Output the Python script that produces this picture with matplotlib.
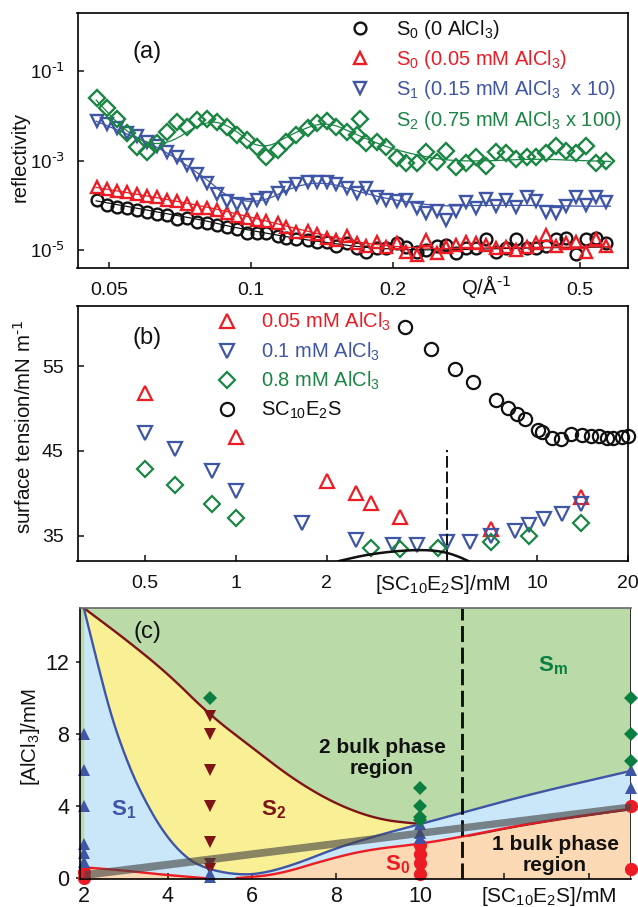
import numpy as np
import matplotlib
matplotlib.use("Agg")
import matplotlib.pyplot as plt

plt.rcParams['font.family'] = ['Liberation Sans', 'DejaVu Sans']
plt.rcParams['mathtext.default'] = 'regular'
plt.rcParams['axes.linewidth'] = 1.2

W, H = 638, 907
BLACK = '#111111'
RED = '#ED1C24'
BLUE = '#3F55A5'
GREEN = '#1B8544'
DKGREEN = '#0B7F41'
DKRED = '#7E1416'
FS = 14.5

# panel (a) reflectivity, values are log10(R)
q = [0.0472, 0.0496, 0.0521, 0.0547, 0.0574, 0.0603, 0.0633, 0.0665, 0.0698, 0.0733, 0.0770, 0.0808, 0.0849,
     0.0891, 0.0936, 0.0983, 0.103, 0.108, 0.114, 0.119, 0.125, 0.132, 0.138, 0.145, 0.152, 0.160, 0.168, 0.176,
     0.185, 0.194, 0.204, 0.214, 0.225, 0.236, 0.248, 0.260, 0.273, 0.287, 0.301, 0.316, 0.332, 0.349, 0.366,
     0.385, 0.404, 0.424, 0.445, 0.467, 0.491, 0.515, 0.541, 0.568]
log_s0_0 = [-3.88, -3.99, -4.03, -4.05, -4.11, -4.14, -4.20, -4.22, -4.31, -4.29, -4.37, -4.39, -4.44, -4.48, -4.52,
            -4.61, -4.61, -4.61, -4.69, -4.72, -4.75, -4.78, -4.81, -4.81, -4.91, -4.85, -4.96, -5.04, -4.96, -4.96,
            -4.84, -4.93, -5.04, -5.00, -4.91, -4.89, -5.06, -4.96, -4.96, -4.76, -5.04, -4.96, -4.76, -4.96, -4.96,
            -4.91, -4.76, -4.72, -5.09, -4.76, -4.72, -4.84]
log_s0_05 = [-3.58, -3.64, -3.67, -3.71, -3.75, -3.79, -3.82, -3.88, -3.91, -3.97, -4.05, -4.07, -4.11, -4.18, -4.23,
             -4.29, -4.33, -4.34, -4.40, -4.48, -4.59, -4.57, -4.63, -4.74, -4.78, -4.69, -4.84, -4.90, -4.81, -4.93,
             -4.85, -5.04, -5.11, -4.78, -5.07, -4.93, -4.89, -4.81, -4.85, -4.89, -4.96, -4.93, -5.00, -4.93, -4.85,
             -4.66, -4.91, -4.85, -4.81, -5.04, -4.76, -4.90]
log_s1 = [-2.11, -2.18, -2.28, -2.39, -2.45, -2.58, -2.67, -2.80, -2.93, -3.10, -3.29, -3.51, -3.75, -3.91, -3.98,
          -3.99, -3.88, -3.83, -3.72, -3.62, -3.53, -3.47, -3.49, -3.49, -3.53, -3.62, -3.72, -3.62, -3.81, -3.87,
          -3.91, -3.88, -4.05, -4.18, -4.12, -4.33, -4.12, -3.92, -4.05, -3.85, -4.02, -3.88, -4.03, -3.81, -3.91,
          -4.14, -4.18, -4.01, -3.82, -3.99, -3.81, -3.92]
log_s2 = [-1.61, -1.83, -2.07, -2.39, -2.69, -2.82, -2.60, -2.36, -2.13, -2.24, -2.10, -2.08, -2.13, -2.24, -2.43,
          -2.54, -2.69, -2.91, -2.77, -2.58, -2.43, -2.28, -2.15, -2.11, -2.24, -2.36, -2.43, -2.60, -2.58, -2.69,
          -2.95, -3.06, -3.05, -2.80, -3.04, -2.78, -3.14, -3.06, -2.91, -3.12, -2.80, -2.83, -2.96, -2.91, -2.91,
          -2.83, -2.68, -2.78, -2.84, -2.68, -3.06, -3.01]
# fitted curves
fit_q = [0.047, 0.055, 0.065, 0.08, 0.09, 0.105, 0.125, 0.145, 0.17, 0.2, 0.25, 0.3, 0.4, 0.5, 0.58]
fit_s0_0 = [-3.90, -4.03, -4.17, -4.34, -4.47, -4.60, -4.74, -4.83, -4.93, -4.98, -5.00, -4.98, -4.95, -4.94, -4.93]
fit_s0_05 = [-3.60, -3.72, -3.85, -4.03, -4.15, -4.32, -4.52, -4.68, -4.83, -4.92, -4.97, -4.95, -4.94, -4.93, -4.92]
fit_s1 = [-2.12, -2.42, -2.75, -3.38, -3.85, -3.95, -3.55, -3.48, -3.70, -3.88, -4.02, -4.00, -4.00, -4.02, -4.02]
fit_s2 = [-1.65, -2.42, -2.72, -2.10, -2.20, -2.80, -2.35, -2.12, -2.45, -2.75, -2.98, -3.02, -2.96, -3.00, -3.02]

# panel (b) surface tension
c_black = [3.63, 4.45, 5.33, 6.13, 7.28, 8.0, 8.55, 9.12, 10.05, 10.37, 11.17, 11.97, 12.97, 14.08, 15.1, 16.0, 17.1,
           17.9, 19.1, 20.0]
st_black = [59.6, 57.0, 54.7, 53.15, 50.95, 50.1, 49.4, 48.75, 47.45, 47.25, 46.5, 46.4, 46.95, 46.85, 46.75, 46.75,
            46.55, 46.55, 46.65, 46.75]
c_red = [0.5, 1, 2, 2.5, 2.8, 3.5, 7, 14]
st_red = [51.85, 46.6, 41.5, 40.05, 38.9, 37.25, 35.8, 39.5]
c_blue = [0.5, 0.63, 0.83, 1, 1.66, 2.5, 3.33, 4, 5, 6, 7, 8.43, 9.37, 10.5, 12.05, 14]
st_blue = [47.1, 45.2, 42.6, 40.3, 36.45, 34.5, 33.9, 33.9, 34.2, 34.3, 34.9, 35.6, 36.25, 36.95, 37.6, 38.7]
c_green = [0.5, 0.63, 0.83, 1, 2.8, 3.5, 4.69, 7, 9.37, 14]
st_green = [42.9, 40.95, 38.75, 37.1, 33.5, 33.4, 33.5, 34.3, 35.0, 36.5]
arc_c = [2.2, 2.6, 3, 3.5, 4, 4.5, 5, 5.5, 5.9]
arc_st = [32.0, 32.6, 32.95, 33.2, 33.3, 33.25, 33.0, 32.5, 32.0]
cmc_line_c = [5, 5]
cmc_line_st = [32.0, 45.1]

# panel (c) phase diagram boundaries
sm_x = [2, 3, 4, 5, 6, 7, 8, 9, 10]
sm_y = [15, 13.25, 11.35, 9.05, 7.25, 5.46, 4.1, 3.25, 3.0]
s1_x = [2, 2.34, 2.63, 2.92, 3.31, 3.89, 4.47, 5, 5.64, 6.22, 7, 8, 9.03, 10, 11, 12.6, 15]
s1_y = [15, 11.8, 9.2, 7.16, 4.93, 2.51, 1.02, 0.46, 0.19, 0.24, 0.74, 1.67, 2.4, 3.0, 3.63, 4.65, 5.95]
s0_left_x = [2, 2.92, 3.89, 4.86]
s0_left_y = [0.6, 0.43, 0.19, 0.0]
s0_right_x = [5.64, 6.6, 7.77, 8.74, 10, 11, 12.6, 15]
s0_right_y = [0.0, 0.19, 1.02, 1.57, 1.9, 2.3, 3.05, 3.85]
band_x = [2, 15]
band_lo = [-0.03, 3.78]
band_hi = [0.42, 4.18]
pts_s1_x = [2, 2, 2, 2, 2, 2, 5, 5, 10, 10, 10, 15, 15]
pts_s1_y = [8, 6, 4, 1.9, 1.4, 0.9, 0.2, 0.05, 3, 2.5, 2.2, 6, 5]
pts_s2_x = [5, 5, 5, 5, 5, 5, 5]
pts_s2_y = [9, 8, 6, 4, 2, 0.8, 0.5]
pts_sm_x = [5, 10, 10, 10, 10, 15, 15, 15]
pts_sm_y = [10, 5, 4, 3.4, 3.2, 10, 8, 6.5]
pts_s0_x = [2, 2, 10, 10, 10, 10, 15, 15]
pts_s0_y = [0.35, 0, 1.86, 1.36, 0.83, 0.24, 4, 0.5]


def px_axes(left, top, right, bottom):
    return fig.add_axes([left / W, 1 - bottom / H, (right - left) / W, (bottom - top) / H])


def ptext(x, y, s, **kw):
    kw.setdefault('fontsize', FS)
    kw.setdefault('ha', 'center')
    kw.setdefault('va', 'center')
    kw.setdefault('color', BLACK)
    fig.text(x / W, 1 - y / H, s, **kw)


def smooth(xs, ys, rounds=3):
    # corner cutting so the hand read knots draw as a curve
    xs, ys = np.asarray(xs, float), np.asarray(ys, float)
    for _ in range(rounds):
        nx = np.column_stack([0.75 * xs[:-1] + 0.25 * xs[1:], 0.25 * xs[:-1] + 0.75 * xs[1:]]).ravel()
        ny = np.column_stack([0.75 * ys[:-1] + 0.25 * ys[1:], 0.25 * ys[:-1] + 0.75 * ys[1:]]).ravel()
        xs = np.r_[xs[0], nx, xs[-1]]
        ys = np.r_[ys[0], ny, ys[-1]]
    return xs, ys


fig = plt.figure(figsize=(W / 100, H / 100), dpi=100)

# (a)
ax = px_axes(77.5, 13, 628, 268)
ax.set_xscale('log')
ax.set_yscale('log')
series_a = [(log_s0_0, fit_s0_0, BLACK, 'o', 'S$_0$ (0 AlCl$_3$)'),
            (log_s0_05, fit_s0_05, RED, '^', 'S$_0$ (0.05 mM AlCl$_3$)'),
            (log_s1, fit_s1, BLUE, 'v', 'S$_1$ (0.15 mM AlCl$_3$  x 10)'),
            (log_s2, fit_s2, GREEN, 'D', 'S$_2$ (0.75 mM AlCl$_3$ x 100)')]
for logr, fit, col, mk, lab in series_a:
    fx, fy = smooth(np.log10(fit_q), fit)
    ax.plot(10.0 ** fx, 10.0 ** fy, color=col, lw=0.9)
    ax.plot(q, 10.0 ** np.array(logr), ls='none', marker=mk, ms=8.5 if mk != 'D' else 8, mfc='none', mec=col,
            mew=1.7, label=lab)
ax.set_xlim(0.0429, 0.632)
ax.set_ylim(10 ** -5.40, 10 ** 0.296)
ax.set_xticks([0.05, 0.1, 0.2, 0.5])
ax.set_xticklabels(['0.05', '0.1', '0.2', '0.5'])
ax.set_yticks([1e-5, 1e-3, 1e-1])
ax.set_yticklabels(['10$^{\\text{-5}}$', '10$^{\\text{-3}}$', '10$^{\\text{-1}}$'])
ax.minorticks_off()
ax.tick_params(axis='x', labelsize=14, length=4, width=1.1, direction='in', pad=10, colors=BLACK)
ax.tick_params(axis='y', labelsize=13.5, length=4, width=1.1, direction='in', pad=9, colors=BLACK)
leg = ax.legend(loc='upper left', bbox_to_anchor=((350 - 77.5) / 550.5, 1 - (18 - 13) / 255), frameon=False,
                fontsize=FS, numpoints=1, handlelength=1.0, handletextpad=1.3, labelspacing=0.36, borderpad=0,
                borderaxespad=0)
for t, s in zip(leg.get_texts(), series_a):
    t.set_color(s[2])
ptext(147, 52, '(a)', fontsize=17)
ptext(20, 157, 'reflectivity', rotation=90, fontsize=14.6)
ptext(486, 287, 'Q/Å$^{\\text{-1}}$', fontsize=14.6)

# (b)
ax = px_axes(77.5, 306, 628, 561)
ax.set_xscale('log')
series_b = [(c_red, st_red, RED, '^', '0.05 mM AlCl$_3$'),
            (c_blue, st_blue, BLUE, 'v', '0.1 mM AlCl$_3$'),
            (c_green, st_green, GREEN, 'D', '0.8 mM AlCl$_3$'),
            (c_black, st_black, BLACK, 'o', 'SC$_{10}$E$_2$S')]
for cx, st, col, mk, lab in series_b:
    ax.plot(cx, st, ls='none', marker=mk, ms=9.5 if mk != 'D' else 8, mfc='none', mec=col, mew=1.6, label=lab,
            clip_on=False)
arc_x, arc_y = smooth(np.log10(arc_c), arc_st)
ax.plot(10.0 ** arc_x, arc_y, color=BLACK, lw=1.8)
ax.plot(cmc_line_c, cmc_line_st, color=BLACK, lw=1.4, ls=(0, (6, 2)))
ax.set_xlim(0.298, 20)
ax.set_ylim(32.0, 62.1)
ax.set_xticks([0.5, 1, 2, 5, 10, 20])
ax.set_xticklabels(['0.5', '1', '2', '', '10', '20'])
ax.set_yticks([35, 45, 55])
ax.minorticks_off()
ax.tick_params(labelsize=14, length=4, width=1.1, direction='in', pad=10, colors=BLACK)
leg = ax.legend(loc='upper left', bbox_to_anchor=((216.5 - 77.5) / 550.5, 1 - (311 - 306) / 255), frameon=False,
                fontsize=FS, numpoints=1, handlelength=1.0, handletextpad=1.2, labelspacing=0.36, borderpad=0,
                borderaxespad=0)
for t, s in zip(leg.get_texts(), series_b):
    t.set_color(s[2])
ptext(147, 338, '(b)', fontsize=17)
ptext(24, 427, 'surface tension/mN m$^{\\text{-1}}$', rotation=90, fontsize=14.8)
ptext(443, 585, '[SC$_{10}$E$_2$S]/mM', fontsize=15)

# (c)
ax = px_axes(80.4, 608, 630.6, 879)
ax.set_facecolor('#BADAA8')
sm_cx, sm_cy = smooth(sm_x, sm_y)
s1_cx, s1_cy = smooth(s1_x, s1_y)
s0l_cx, s0l_cy = smooth(s0_left_x, s0_left_y)
s0r_cx, s0r_cy = smooth(s0_right_x, s0_right_y)
sx = np.linspace(2, 15, 800)
upper = np.interp(sx, sm_cx, sm_cy, right=np.nan)
upper = np.where(np.isnan(upper), np.interp(sx, s1_cx, s1_cy), upper)
s1_line = np.interp(sx, s1_cx, s1_cy)
s0_line = np.interp(sx, np.r_[s0l_cx, s0r_cx], np.r_[s0l_cy, s0r_cy])
ax.fill_between(sx, -0.05, s0_line, color='#FBD9B5', lw=0)
ax.fill_between(sx, s0_line, s1_line, color='#C9E7F8', lw=0)
ax.fill_between(sx, s1_line, upper, where=sx <= 10, color='#F9EF94', lw=0)
ax.plot(s0r_cx[s0r_cx > 11], s0r_cy[s0r_cx > 11] - 0.04, color=DKRED, lw=1.2)
ax.plot(sm_cx, sm_cy, color=DKRED, lw=1.7)
ax.plot(s1_cx, s1_cy, color=BLUE, lw=1.7)
ax.plot(s0l_cx, s0l_cy, color=RED, lw=1.7)
ax.plot(s0r_cx, s0r_cy, color=RED, lw=1.7)
ax.axvline(15, color=BLACK, lw=1.2)
ax.axvline(11, color=BLACK, lw=2.1, ls=(0, (5.5, 1.9)))
ax.plot(pts_s0_x, pts_s0_y, ls='none', marker='o', ms=9.5, color=RED, mew=0, clip_on=False)
ax.plot(pts_s2_x, pts_s2_y, ls='none', marker='v', ms=8.5, color=DKRED, mew=0)
ax.plot(pts_s1_x, pts_s1_y, ls='none', marker='^', ms=8.5, color=BLUE, mew=0, clip_on=False)
ax.plot(pts_sm_x, pts_sm_y, ls='none', marker='D', ms=7.5, color=DKGREEN, mew=0, clip_on=False)
ax.fill_between(band_x, band_lo, band_hi, color='#444444', alpha=0.62, lw=0, zorder=5)
ax.set_xlim(1.92, 15)
ax.set_ylim(-0.05, 15)
ax.set_xticks([2, 4, 6, 8, 10, 12, 14])
ax.set_xticklabels(['2', '4', '6', '8', '10', '', ''])
ax.set_yticks([0, 4, 8, 12])
ax.spines['top'].set_color('#666666')
ax.spines['right'].set_visible(False)
ax.tick_params(axis='x', labelsize=15.5, length=4, width=1.1, direction='in', pad=5, colors=BLACK)
ax.tick_params(axis='y', labelsize=15.5, length=3, width=1.1, direction='out', pad=5, colors=BLACK)
ptext(147, 632, '(c)', fontsize=17)
ptext(30, 737, '[AlCl$_3$]/mM', rotation=90, fontsize=14.8)
ptext(549, 896, '[SC$_{10}$E$_2$S]/mM', fontsize=15)
ptext(553, 666, 'S$_m$', fontsize=16, color=DKGREEN, fontweight='bold')
ptext(124, 810, 'S$_1$', fontsize=16, color=BLUE, fontweight='bold')
ptext(274, 810, 'S$_2$', fontsize=16, color=DKRED, fontweight='bold')
ptext(398, 865, 'S$_0$', fontsize=16, color=RED, fontweight='bold')
ptext(382, 758, '2 bulk phase\nregion', fontsize=15, fontweight='bold', linespacing=1.1)
ptext(555, 855, '1 bulk phase\nregion', fontsize=15, fontweight='bold', linespacing=1.1)

fig.savefig('out.png', dpi=100)
